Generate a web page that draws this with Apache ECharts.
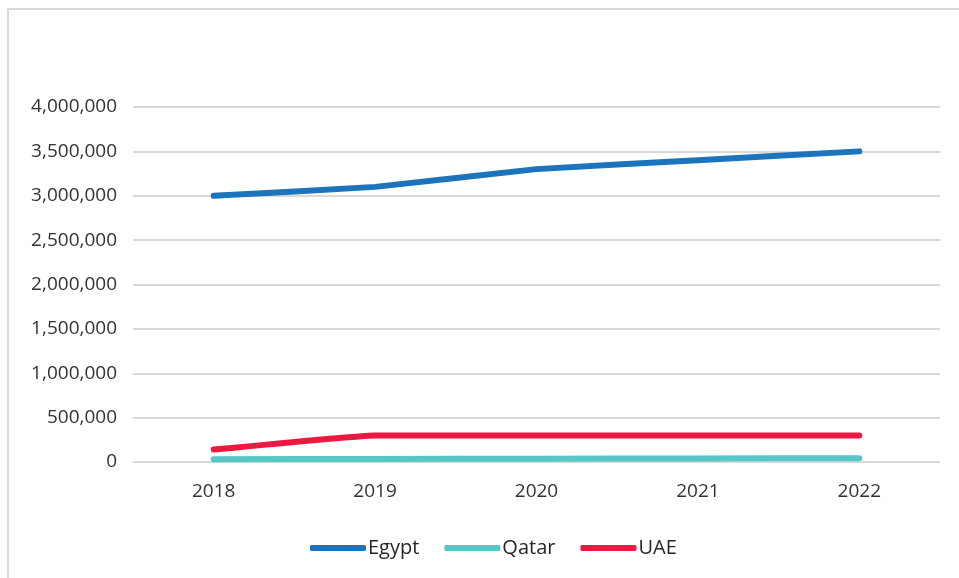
<!DOCTYPE html>
<html>
<head>
<meta charset="utf-8">
<script src="https://cdn.jsdelivr.net/npm/echarts@6/dist/echarts.min.js"></script>
<style>
  html, body { margin: 0; padding: 0; background: #fff; overflow: hidden; }
  #frame { position: absolute; left: 7px; top: 8px; width: 970px; height: 590px;
           border: 2px solid #d9d9d9; box-sizing: border-box; }
  #chart { position: absolute; left: 0; top: 0; width: 959px; height: 578px; }
</style>
</head>
<body>
<div id="frame"></div>
<div id="chart"></div>
<script>
// data
var years = ['2018', '2019', '2020', '2021', '2022'];
var egypt = [3000000, 3100000, 3300000, 3400000, 3500000];
var qatar = [30000, 35000, 38000, 40000, 42000];
var uae = [140000, 300000, 300000, 300000, 300000];

var colors = ['#1c75bc', '#56c6c6', '#ee1940'];
var font = '"Open Sans", "Noto Sans", sans-serif';

function lineSeries(name, data, color) {
    return {
        name: name,
        type: 'line',
        data: data,
        symbol: 'none',
        smooth: 0.1,
        lineStyle: { width: 6, color: color, cap: 'round', join: 'round' },
        itemStyle: { color: color }
    };
}

var chart = echarts.init(document.getElementById('chart'));
chart.setOption({
    animation: false,
    grid: { left: 133, right: 19, top: 107, bottom: 116 },
    legend: {
        data: ['Egypt', 'Qatar', 'UAE'],
        left: 305,
        top: 533,
        icon: 'roundRect',
        itemWidth: 56,
        itemHeight: 6,
        itemGap: 25,
        textStyle: { fontFamily: font, fontSize: 20, color: '#262626', padding: [0, 0, 0, -3] }
    },
    xAxis: {
        type: 'category',
        data: years,
        boundaryGap: true,
        axisLine: { show: false },
        axisTick: { show: false },
        axisLabel: { fontFamily: font, fontSize: 19, color: '#333', margin: 20 }
    },
    yAxis: {
        type: 'value',
        min: 0,
        max: 4000000,
        interval: 500000,
        axisLine: { show: false },
        axisTick: { show: false },
        splitLine: { lineStyle: { color: '#d9d9d9', width: 2 } },
        axisLabel: {
            fontFamily: font, fontSize: 19, color: '#333', margin: 16,
            formatter: function (v) { return v.toLocaleString('en-US'); }
        }
    },
    series: [
        lineSeries('Egypt', egypt, colors[0]),
        lineSeries('Qatar', qatar, colors[1]),
        lineSeries('UAE', uae, colors[2])
    ]
});
</script>
</body>
</html>
